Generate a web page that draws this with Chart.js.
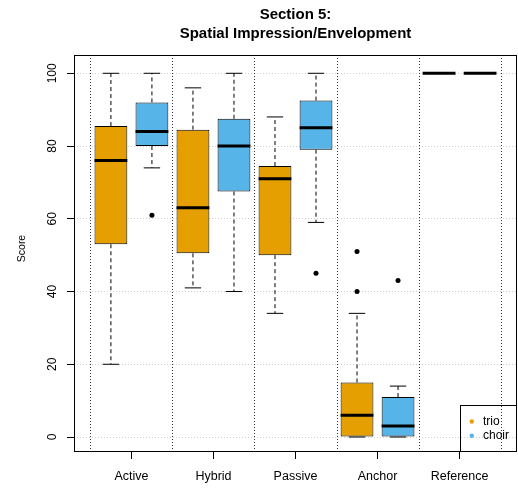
<!DOCTYPE html>
<html>
<head>
<meta charset="utf-8">
<script src="https://cdn.jsdelivr.net/npm/chart.js@4.4.1/dist/chart.umd.min.js"></script>
<style>
  html, body { margin: 0; padding: 0; background: #fff; }
  #wrap { width: 518px; height: 488px; }
</style>
</head>
<body>
<div id="wrap"><canvas id="c" width="518" height="488"></canvas></div>
<script>
// Five-number summaries per listening condition
const categories = ['Active', 'Hybrid', 'Passive', 'Anchor', 'Reference'];

const trioMin      = [20, 41, 34, 0, 100];
const trioQ1       = [53, 50.5, 50, 0, 100];
const trioMedian   = [76, 63, 71, 6, 100];
const trioQ3       = [85.5, 84.5, 74.5, 15, 100];
const trioMax      = [100, 96, 88, 34, 100];
const trioOutliers = [[], [], [], [51, 40], []];

const choirMin      = [74, 40, 59, 0, 100];
const choirQ1       = [80, 67.5, 79, 0, 100];
const choirMedian   = [84, 80, 85, 3, 100];
const choirQ3       = [92, 87.5, 92.5, 11, 100];
const choirMax      = [100, 100, 100, 14, 100];
const choirOutliers = [[61], [], [45], [43], []];

const yTicks = [0, 20, 40, 60, 80, 100];
const titleLines = ['Section 5:', 'Spatial Impression/Envelopment'];
const yTitle = 'Score';

const FONT = "'Liberation Sans', Arial, Helvetica, sans-serif";
const BOX_HALF = 0.2;   // half box width in x units
const CAP_HALF = 0.1;   // half whisker cap width

const groups = [
  { label: 'trio',  color: '#E69F00', shift: -0.25,
    min: trioMin, q1: trioQ1, med: trioMedian, q3: trioQ3, max: trioMax, out: trioOutliers },
  { label: 'choir', color: '#56B4E9', shift: 0.25,
    min: choirMin, q1: choirQ1, med: choirMedian, q3: choirQ3, max: choirMax, out: choirOutliers }
];

const datasets = [];
groups.forEach(g => {
  const xs = categories.map((c, i) => i + 1 + g.shift);
  // boxes (lower to upper hinge)
  datasets.push({
    type: 'bar', label: g.label, legendColor: g.color,
    data: xs.map((x, i) => ({ x, y: [g.q1[i], g.q3[i]] })),
    backgroundColor: g.color, borderColor: '#000', borderWidth: 1,
    borderSkipped: false, grouped: false,
    barPercentage: 0.8, categoryPercentage: 1, order: 2
  });
  // dashed whiskers
  datasets.push({
    type: 'line', label: g.label + ' whiskers',
    data: xs.flatMap((x, i) => [
      { x, y: g.q3[i] }, { x, y: g.max[i] }, { x, y: null },
      { x, y: g.q1[i] }, { x, y: g.min[i] }, { x, y: null }
    ]),
    borderColor: '#000', borderWidth: 1, borderDash: [4, 3],
    pointRadius: 0, spanGaps: false, fill: false, order: 3
  });
  // whisker caps
  datasets.push({
    type: 'line', label: g.label + ' caps',
    data: xs.flatMap((x, i) => [
      { x: x - CAP_HALF, y: g.max[i] }, { x: x + CAP_HALF, y: g.max[i] }, { x, y: null },
      { x: x - CAP_HALF, y: g.min[i] }, { x: x + CAP_HALF, y: g.min[i] }, { x, y: null }
    ]),
    borderColor: '#000', borderWidth: 1,
    pointRadius: 0, spanGaps: false, fill: false, order: 3
  });
  // medians
  datasets.push({
    type: 'line', label: g.label + ' medians',
    data: xs.flatMap((x, i) => [
      { x: x - BOX_HALF, y: g.med[i] }, { x: x + BOX_HALF, y: g.med[i] }, { x, y: null }
    ]),
    borderColor: '#000', borderWidth: 3, borderCapStyle: 'butt',
    pointRadius: 0, spanGaps: false, fill: false, order: 1
  });
  // outliers
  datasets.push({
    type: 'line', label: g.label + ' outliers',
    data: xs.flatMap((x, i) => g.out[i].map(v => ({ x, y: v }))),
    showLine: false, pointRadius: 2.5, pointBackgroundColor: '#000',
    pointBorderWidth: 0, borderColor: '#000', order: 0
  });
});

const framePlugin = {
  id: 'frame',
  beforeDatasetsDraw(chart) {
    const { ctx, chartArea: a, scales: { x } } = chart;
    ctx.save();
    ctx.strokeStyle = '#333';
    ctx.lineWidth = 1;
    ctx.setLineDash([1, 2]);
    for (let k = 0; k <= categories.length; k++) {
      const px = Math.round(x.getPixelForValue(k + 0.5)) + 0.5;
      ctx.beginPath();
      ctx.moveTo(px, a.top);
      ctx.lineTo(px, a.bottom);
      ctx.stroke();
    }
    ctx.restore();
  },
  afterDraw(chart) {
    const { ctx, chartArea: a, scales: { y } } = chart;
    ctx.save();
    // plot frame
    ctx.strokeStyle = '#000';
    ctx.lineWidth = 1;
    ctx.strokeRect(a.left + 0.5, a.top + 0.5, a.right - a.left - 1, a.bottom - a.top - 1);

    // rotated y tick labels
    ctx.fillStyle = '#000';
    ctx.font = '12px ' + FONT;
    ctx.textAlign = 'center';
    ctx.textBaseline = 'alphabetic';
    yTicks.forEach(v => {
      ctx.save();
      ctx.translate(a.left - 18, y.getPixelForValue(v));
      ctx.rotate(-Math.PI / 2);
      ctx.fillText(String(v), 0, 0);
      ctx.restore();
    });

    // y axis title
    ctx.save();
    ctx.font = '10.5px ' + FONT;
    ctx.translate(25, (a.top + a.bottom) / 2 - 5);
    ctx.rotate(-Math.PI / 2);
    ctx.fillText(yTitle, 0, 0);
    ctx.restore();

    // legend in the bottom-right corner of the plot
    const items = chart.data.datasets.filter(d => d.type === 'bar');
    const lx = a.right - 56.5, ly = a.bottom - 46.5;
    ctx.strokeRect(lx, ly, a.right - 0.5 - lx, a.bottom - 0.5 - ly);
    ctx.font = '12px ' + FONT;
    ctx.textAlign = 'left';
    ctx.textBaseline = 'middle';
    items.forEach((d, i) => {
      const cy = ly + 16 + i * 14.3;
      ctx.fillStyle = d.legendColor;
      ctx.beginPath();
      ctx.arc(lx + 11.3, cy, 2.2, 0, Math.PI * 2);
      ctx.fill();
      ctx.fillStyle = '#000';
      ctx.fillText(d.label, lx + 22.5, cy);
    });
    ctx.restore();
  }
};

Chart.defaults.color = '#000';
Chart.defaults.font.family = FONT;

new Chart(document.getElementById('c'), {
  type: 'bar',
  data: { datasets },
  options: {
    responsive: false,
    animation: false,
    events: [],
    layout: { autoPadding: false, padding: { left: 0, right: 1, top: 0, bottom: 0 } },
    plugins: {
      legend: { display: false },
      tooltip: { enabled: false },
      title: {
        display: true, text: titleLines, fullSize: false,
        color: '#000',
        font: { size: 15, weight: 'bold', family: FONT, lineHeight: 1.22 },
        padding: { top: 6.2, bottom: 12.2 }
      }
    },
    scales: {
      x: {
        type: 'linear', min: 0.3, max: 5.7, offset: false,
        afterBuildTicks: s => { s.ticks = categories.map((c, i) => ({ value: i + 1 })); },
        afterFit: s => { s.height = 36; s.paddingLeft = 0; s.paddingRight = 0; },
        ticks: {
          autoSkip: false, maxRotation: 0, minRotation: 0, padding: 10,
          font: { size: 12.5, family: FONT }, color: '#000',
          callback: v => categories[v - 1]
        },
        grid: { drawOnChartArea: false, drawTicks: true, tickLength: 7, tickColor: '#000', offset: false },
        border: { display: false }
      },
      y: {
        type: 'linear', min: -4.12, max: 105.03,
        afterBuildTicks: s => { s.ticks = yTicks.map(v => ({ value: v })); },
        afterFit: s => { s.width = 74; s.paddingTop = 0; s.paddingBottom = 0; },
        ticks: { display: false },
        grid: { drawOnChartArea: true, drawTicks: true, tickLength: 7, tickColor: '#000',
                color: '#cfcfcf', lineWidth: 1 },
        border: { display: false, dash: [1, 2] }
      }
    }
  },
  plugins: [framePlugin]
});
</script>
</body>
</html>
